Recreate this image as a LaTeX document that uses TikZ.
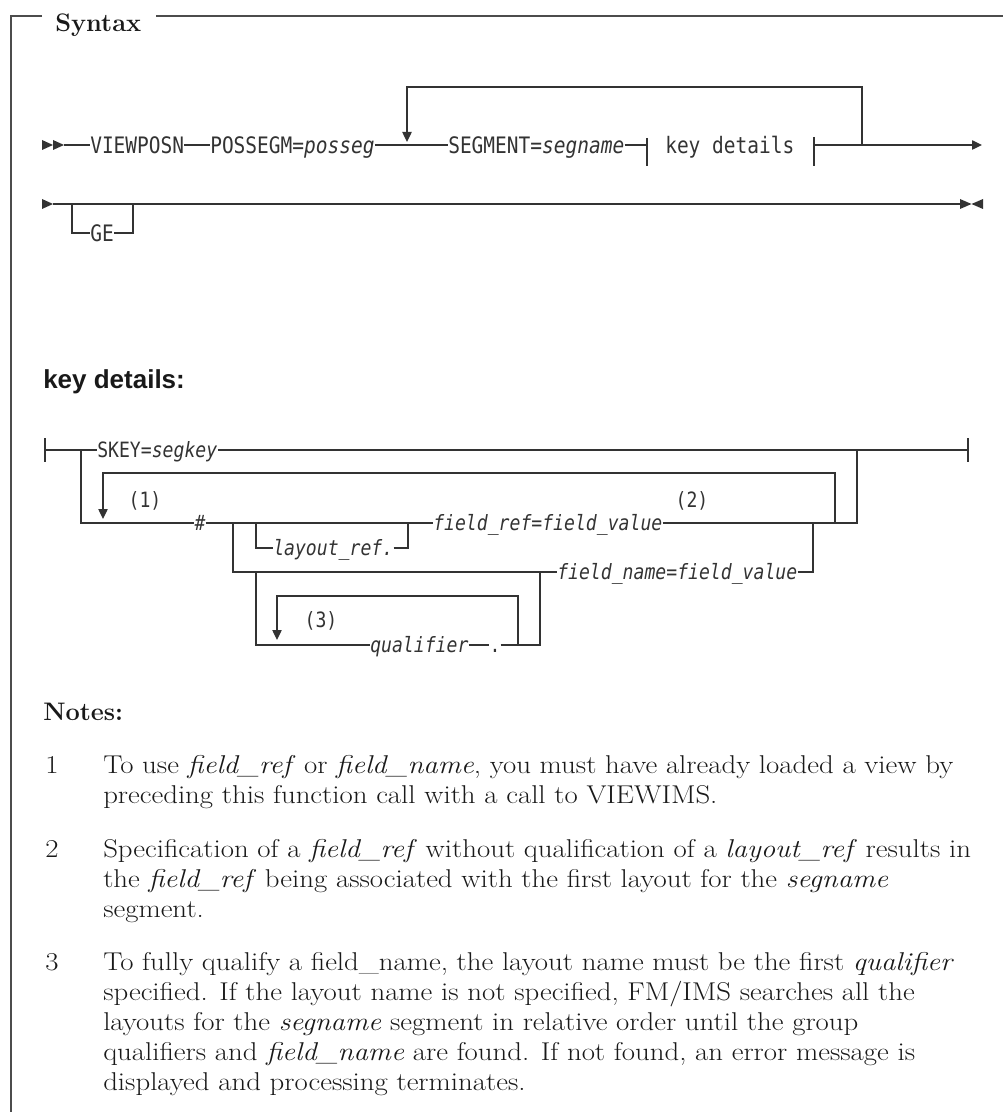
\documentclass[tikz,border=0pt]{standalone}
\usepackage{fontspec}
\usetikzlibrary{arrows.meta}
\newfontfamily\rrfont[FakeStretch=0.86]{DejaVu Sans Mono}
\newfontfamily\hdsans{Liberation Sans}
\newfontfamily\notefont[FakeStretch=1.12]{Latin Modern Roman}
\definecolor{ink}{HTML}{333333}
\tikzset{
  rail/.style={line width=1pt, draw=ink},
  railtip/.style={-{Triangle[length=7.5pt,width=7pt]}},
  rr/.style={inner sep=0pt, anchor=west, text=ink, font=\rrfont\fontsize{17}{20}\selectfont, text height=14pt, text depth=1.6pt},
  rrs/.style={inner sep=0pt, anchor=west, text=ink, font=\rrfont\fontsize{15.8}{19}\selectfont, text height=13pt, text depth=1.5pt},
  noteline/.style={inner sep=0pt, anchor=base west, text=black!90, font=\notefont\fontsize{19.3}{24}\selectfont},
  heading/.style={inner sep=0pt, anchor=base west, text=black!90, font=\fontsize{19}{22}\selectfont\bfseries},
  frameline/.style={line width=0.9pt, draw=black!70},
}
\begin{document}
\begin{tikzpicture}[x=0.75pt,y=-0.75pt]
\useasboundingbox (0,0) rectangle (1003,1112);

% frame
\node[heading] (syntax) at (55,32) {Syntax};
\coordinate (ftl) at (11,16);
\coordinate (fbl) at (11,1112);
\coordinate (ftr) at (1003,16);
\draw[frameline] (syntax.west |- ftl) ++(-13,0) -- (ftl) -- (fbl);
\draw[frameline] (syntax.east |- ftl) ++(15,0) -- (ftr);

% ---------- main diagram, row 1
\fill[ink] (42,140) -- (53,145) -- (42,150) -- cycle;
\fill[ink] (53,140) -- (64,145) -- (53,150) -- cycle;
\coordinate (s1) at (64,145);
\node[rr] (viewposn) at (90,145) {VIEWPOSN};
\node[rr] (possegm) at (210,145) {POSSEGM=\textit{posseg}};
\node[rr] (segment) at (448,145) {SEGMENT=\textit{segname}};
\node[rr] (keyref) at (665,145) {key details};
\coordinate (kbl) at (647,145);
\coordinate (kbr) at (814,145);
\coordinate (j1) at (862,145);
\coordinate (e1) at (982,145);
\coordinate (lp1) at (407,87);
\coordinate (lp1end) at (407,142);
\draw[rail] (s1) -- (viewposn.west);
\draw[rail] (viewposn.east) -- (possegm.west);
\draw[rail] (possegm.east) -- (segment.west);
\draw[rail] (segment.east) -- (kbl);
\draw[rail] (647,138) -- (647,166);
\draw[rail] (814,137) -- (814,166);
\draw[rail,railtip] (kbr) -- (e1);
\draw[rail,railtip] (j1) |- (lp1) -- (lp1end);

% ---------- main diagram, row 2
\fill[ink] (42,199) -- (53,204) -- (42,209) -- cycle;
\coordinate (s2) at (53,204);
\coordinate (e2) at (960,204);
\draw[rail] (s2) -- (e2);
\fill[ink] (960,199) -- (971.5,204) -- (960,209) -- cycle;
\fill[ink] (983,199) -- (971.5,204) -- (983,209) -- cycle;
\node[rr] (ge) at (90,233) {GE};
\coordinate (gel) at (72,204);
\coordinate (ger) at (133,204);
\draw[rail] (gel) |- (ge.west);
\draw[rail] (ge.east) -| (ger);

% ---------- key details heading
\node[inner sep=0pt, anchor=base west, font=\hdsans\fontsize{19.5}{23}\selectfont\bfseries, text=black!90] (kdhead) at (43,388) {key details:};

% ---------- key details fragment
\node[rrs] (skey) at (97,450) {SKEY=\textit{segkey}};
\coordinate (kl) at (45,450);
\coordinate (kr) at (968,450);
\coordinate (jb) at (81,450);
\coordinate (jbr) at (857,450);
\draw[rail] (45,438) -- (45,462);
\draw[rail] (968,438) -- (968,462);
\draw[rail] (kl) -- (skey.west);
\draw[rail] (skey.east) -- (kr);

\node[rrs, anchor=center] (hash) at (200,523) {\textit{\#}};
\node[rrs] (fref) at (433,523) {\textit{field\_ref=field\_value}};
\coordinate (rbr) at (857,523);
\draw[rail] (jb) |- (hash.west);
\draw[rail] (hash.east) -- (fref.west);
\draw[rail] (fref.east) -- (rbr) -- (jbr);

% repeat loop (1)
\coordinate (lp2) at (835,523);
\coordinate (lp2t) at (103,473);
\coordinate (lp2end) at (103,519);
\draw[rail,railtip] (lp2) |- (lp2t) -- (lp2end);
\node[rrs, anchor=center] (n1) at (145,500) {(1)};
\node[rrs, anchor=center] (n2) at (692,500) {(2)};

% optional layout_ref.
\node[rrs] (lref) at (273,548) {\textit{layout\_ref.}};
\coordinate (ll) at (256,523);
\coordinate (lr) at (408,523);
\draw[rail] (ll) |- (lref.west);
\draw[rail] (lref.east) -| (lr);

% field_name branch
\node[rrs] (fname) at (557,572) {\textit{field\_name=field\_value}};
\coordinate (fl) at (233,523);
\coordinate (fr) at (813,523);
\draw[rail] (fl) |- (fname.west);
\draw[rail] (fname.east) -| (fr);

% qualifier branch
\node[rrs] (qual) at (370,645) {\textit{qualifier}};
\node[rrs, anchor=center] (qdot) at (495,645) {.};
\coordinate (ql) at (256,572);
\coordinate (qr) at (540,572);
\draw[rail] (ql) |- (qual.west);
\draw[rail] (qual.east) -- (qdot.west);
\draw[rail] (qdot.east) -| (qr);
\coordinate (lp3) at (518,645);
\coordinate (lp3t) at (277,596);
\coordinate (lp3end) at (277,640);
\draw[rail,railtip] (lp3) |- (lp3t) -- (lp3end);
\node[rrs, anchor=center] (n3) at (321,620) {(3)};

% ---------- notes
\node[heading] (notes) at (43,720) {Notes:};
\node[noteline] (k1) at (45,773) {1};
\node[noteline] (t11) at (103,773) {To use \textit{field\_ref} or \textit{field\_name}, you must have already loaded a view by};
\node[noteline] (t12) at (103,803) {preceding this function call with a call to VIEWIMS.};
\node[noteline] (k2) at (45,857) {2};
\node[noteline] (t21) at (103,857) {Specification of a \textit{field\_ref} without qualification of a \textit{layout\_ref} results in};
\node[noteline] (t22) at (103,887) {the \textit{field\_ref} being associated with the first layout for the \textit{segname}};
\node[noteline] (t23) at (103,917) {segment.};
\node[noteline] (k3) at (45,970) {3};
\node[noteline] (t31) at (103,970) {To fully qualify a field\_name, the layout name must be the first \textit{qualifier}};
\node[noteline] (t32) at (103,1000) {specified. If the layout name is not specified, FM/IMS searches all the};
\node[noteline] (t33) at (103,1030) {layouts for the \textit{segname} segment in relative order until the group};
\node[noteline] (t34) at (103,1060) {qualifiers and \textit{field\_name} are found. If not found, an error message is};
\node[noteline] (t35) at (103,1090) {displayed and processing terminates.};
\end{tikzpicture}
\end{document}
